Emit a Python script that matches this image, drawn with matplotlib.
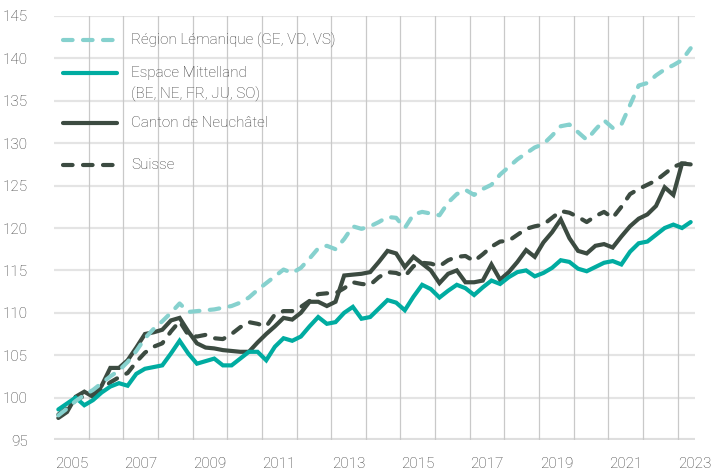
"""
Indice trimestriel 2005-2023 : Région lémanique, Espace Mittelland,
canton de Neuchâtel et Suisse (base 100 en 2005).
"""

import numpy as np
import matplotlib
matplotlib.use("Agg")
import matplotlib.pyplot as plt

FIRST_YEAR = 2005
YEAR_LABELS = [str(y) for y in range(2005, 2024, 2)]

# valeurs trimestrielles, 2005T1 -> 2023T2
lemanique = [
    97.9, 98.7, 99.6, 100.3, 100.9, 101.7, 102.5, 103.2, 104.2, 105.5,
    107.0, 108.1, 109.0, 110.0, 111.1, 110.1, 110.2, 110.3, 110.4, 110.6,
    110.8, 111.2, 111.8, 112.7, 113.5, 114.3, 115.1, 114.7, 115.3, 116.4,
    117.6, 117.9, 117.5, 118.7, 120.2, 119.9, 120.2, 120.7, 121.3, 121.2,
    120.0, 121.6, 121.9, 121.7, 121.5, 123.0, 124.0, 124.5, 123.9, 124.6,
    125.1, 126.3, 127.2, 128.1, 128.8, 129.5, 129.9, 130.9, 132.0, 132.2,
    131.3, 130.4, 131.6, 132.7, 131.8, 132.2, 134.5, 136.8, 137.1, 138.0,
    138.7, 139.2, 139.8, 141.2,
]
mittelland = [
    98.6, 99.3, 100.0, 99.1, 99.7, 100.6, 101.3, 101.7, 101.4, 102.8,
    103.4, 103.6, 103.8, 105.2, 106.7, 105.2, 104.0, 104.3, 104.6, 103.8,
    103.8, 104.6, 105.4, 105.4, 104.4, 106.0, 107.0, 106.7, 107.2, 108.4,
    109.5, 108.7, 108.9, 110.0, 110.7, 109.3, 109.5, 110.5, 111.5, 111.2,
    110.3, 111.9, 113.3, 112.8, 111.8, 112.6, 113.3, 112.9, 112.1, 113.0,
    113.8, 113.4, 114.2, 114.8, 115.0, 114.3, 114.7, 115.3, 116.2, 116.0,
    115.2, 114.9, 115.4, 115.9, 116.1, 115.7, 117.2, 118.2, 118.4, 119.2,
    120.0, 120.4, 120.0, 120.7,
]
neuchatel = [
    97.6, 98.3, 100.1, 100.7, 100.1, 101.4, 103.5, 103.5, 104.4, 105.9,
    107.5, 107.7, 108.0, 109.1, 109.4, 107.8, 106.4, 105.9, 105.8, 105.6,
    105.5, 105.4, 105.4, 106.5, 107.5, 108.4, 109.4, 109.2, 110.0, 111.3,
    111.3, 110.8, 111.3, 114.4, 114.5, 114.6, 114.8, 116.0, 117.3, 117.0,
    115.4, 116.6, 115.8, 115.0, 113.5, 114.6, 115.0, 113.6, 113.6, 113.8,
    115.7, 113.9, 114.8, 116.0, 117.4, 116.6, 118.3, 119.5, 121.0, 118.8,
    117.3, 117.0, 117.9, 118.1, 117.7, 119.0, 120.2, 121.1, 121.6, 122.6,
    124.8, 123.9, 127.6, 127.5,
]
suisse = [
    98.0, 98.8, 99.7, 100.2, 100.6, 101.0, 101.8, 102.4, 102.9, 104.2,
    105.3, 106.0, 106.4, 107.8, 109.0, 107.4, 107.2, 107.4, 107.0, 106.9,
    107.5, 108.3, 108.9, 108.7, 108.4, 109.8, 110.2, 110.2, 110.7, 111.4,
    112.2, 112.3, 112.3, 112.9, 113.6, 113.4, 113.3, 114.2, 114.8, 114.7,
    114.3, 115.5, 115.9, 115.8, 115.5, 116.2, 116.6, 116.7, 116.1, 116.9,
    117.8, 118.4, 118.5, 119.2, 119.9, 120.2, 120.4, 121.2, 122.0, 121.8,
    121.3, 120.7, 121.4, 121.9, 121.2, 122.5, 124.0, 124.6, 125.1, 125.6,
    126.4, 127.2, 127.6, 127.6,
]

LIGHT_TEAL = "#86d1ce"
TEAL = "#00aca1"
DARK = "#3c4b41"
DASH = (2.3, 2.5)

SERIES = [
    # (label lines, values, colour, dashed)
    (["Suisse"], suisse, DARK, True),
    (["Canton de Neuchâtel"], neuchatel, DARK, False),
    (["Espace Mittelland", "(BE, NE, FR, JU, SO)"], mittelland, TEAL, False),
    (["Région Lémanique (GE, VD, VS)"], lemanique, LIGHT_TEAL, True),
]
# legend rows, top to bottom (axes fraction)
LEGEND_Y = {"Région Lémanique (GE, VD, VS)": 0.943,
            "Espace Mittelland": 0.866,
            "Canton de Neuchâtel": 0.748,
            "Suisse": 0.649}


def main():
    plt.rcParams["font.family"] = ["Roboto", "DejaVu Sans"]
    plt.rcParams["font.weight"] = "light"
    plt.rcParams["font.size"] = 11

    fig = plt.figure(figsize=(7.15, 4.71), dpi=100)
    ax = fig.add_axes([54 / 715, 1 - 440 / 471, 641 / 715, 424 / 471])

    n = len(suisse)
    t = FIRST_YEAR + (np.arange(n) + 0.5) / 4   # centre of each quarter

    # ---- grid ----
    for v in range(100, 146, 5):
        ax.axhline(v, color="#e4e4e4", lw=1.6, zorder=0)
    ax.axhline(95, color="#dedede", lw=3.0, zorder=0)
    for yr in range(FIRST_YEAR + 1, 2024):
        ax.axvline(yr, ymin=0, ymax=1, color="#c9c9c9", lw=0.9, zorder=0)

    # ---- series + hand-placed legend ----
    for labels, vals, col, dashed in SERIES:
        kw = dict(color=col, lw=3.0, solid_capstyle="round",
                  dash_capstyle="round", solid_joinstyle="miter")
        if dashed:
            kw["dashes"] = DASH
        ax.plot(t, vals, zorder=3, **kw)
        ly = LEGEND_Y[labels[0]]
        ax.plot([0.014, 0.099], [ly, ly], transform=ax.transAxes,
                clip_on=False, zorder=4, **kw)
        for k, txt in enumerate(labels):
            ax.text(0.120, ly - k * 0.052, txt, transform=ax.transAxes,
                    va="center", ha="left", color="#3a3a3a", fontsize=11)

    ax.set_xlim(FIRST_YEAR, 2023.5)
    ax.set_ylim(95, 145)
    ax.set_yticks(range(95, 146, 5))
    ax.set_xticks([int(y) + 0.5 for y in YEAR_LABELS])
    ax.set_xticklabels(YEAR_LABELS)
    ax.tick_params(length=0, colors="#3a3a3a", labelsize=11)
    ax.tick_params(axis="y", pad=19)
    ax.tick_params(axis="x", pad=12)
    for s in ax.spines.values():
        s.set_visible(False)

    fig.savefig("out.png", dpi=100)
    plt.close(fig)


if __name__ == "__main__":
    main()
